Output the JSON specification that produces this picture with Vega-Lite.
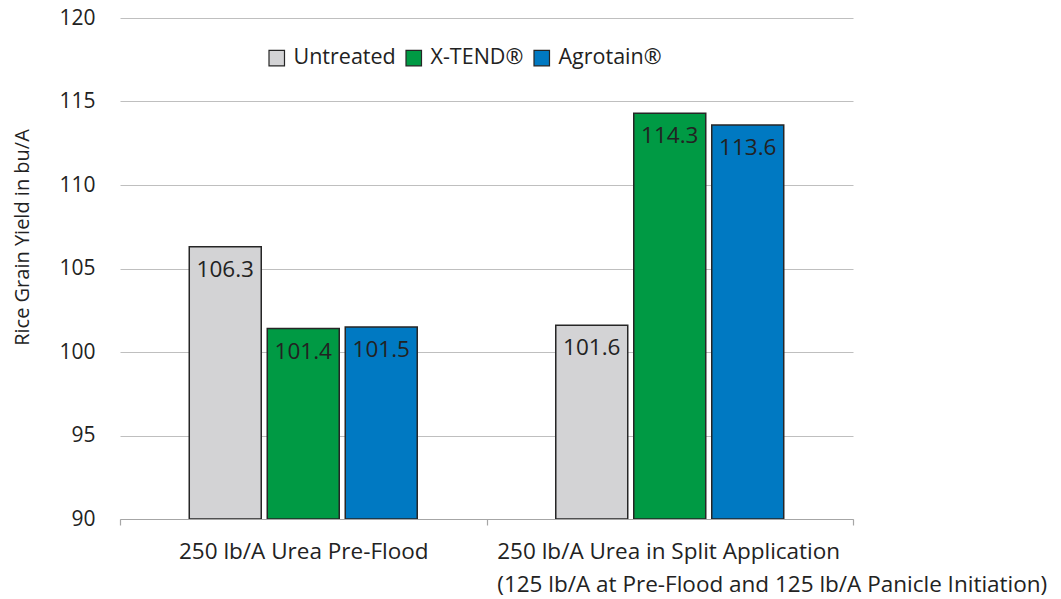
{
  "$schema": "https://vega.github.io/schema/vega-lite/v6.json",
  "width": 733,
  "height": 501,
  "autosize": {"type": "none"},
  "padding": {"left": 120, "top": 18, "right": 208, "bottom": 80},
  "background": "white",
  "config": {
    "font": "Open Sans",
    "view": {"stroke": null}
  },
  "data": {
    "values": [
      {"group": "250 lb/A Urea Pre-Flood", "treatment": "Untreated", "yield": 106.3},
      {"group": "250 lb/A Urea Pre-Flood", "treatment": "X-TEND®", "yield": 101.4},
      {"group": "250 lb/A Urea Pre-Flood", "treatment": "Agrotain®", "yield": 101.5},
      {"group": "250 lb/A Urea in Split Application|(125 lb/A at Pre-Flood and 125 lb/A Panicle Initiation)", "treatment": "Untreated", "yield": 101.6},
      {"group": "250 lb/A Urea in Split Application|(125 lb/A at Pre-Flood and 125 lb/A Panicle Initiation)", "treatment": "X-TEND®", "yield": 114.3},
      {"group": "250 lb/A Urea in Split Application|(125 lb/A at Pre-Flood and 125 lb/A Panicle Initiation)", "treatment": "Agrotain®", "yield": 113.6}
    ]
  },
  "encoding": {
    "x": {
      "field": "group",
      "type": "nominal",
      "sort": null,
      "scale": {"paddingInner": 0, "paddingOuter": 0},
      "axis": {
        "title": null,
        "labelAngle": 0,
        "labelExpr": "split(datum.label, '|')",
        "labelFontSize": 22.5,
        "labelColor": "#222222",
        "labelLineHeight": 33,
        "labelPadding": 15,
        "labelLimit": 1000,
        "labelOverlap": false,
        "labelBound": false,
        "labelFlush": false,
        "labelAlign": {"condition": {"test": "indexof(datum.label, 'Split') >= 0", "value": "left"}, "value": "center"},
        "labelOffset": {"condition": {"test": "indexof(datum.label, 'Split') >= 0", "value": -173}, "value": 0},
        "domainColor": "#A6A6A6",
        "domainWidth": 1.2,
        "tickColor": "#A6A6A6",
        "tickSize": 6,
        "tickWidth": 1.2,
        "tickBand": "extent",
        "grid": false
      }
    },
    "xOffset": {
      "field": "treatment",
      "type": "nominal",
      "sort": ["Untreated", "X-TEND®", "Agrotain®"],
      "scale": {"paddingInner": 0.077, "paddingOuter": 0.888}
    },
    "y": {
      "field": "yield",
      "type": "quantitative",
      "scale": {"domain": [90, 120], "zero": false, "nice": false},
      "axis": {
        "title": "Rice Grain Yield in bu/A",
        "titleFontSize": 20,
        "titleFontWeight": "normal",
        "titleColor": "#222222",
        "titleAngle": -90,
        "titleX": -108,
        "titleY": 219,
        "titleAlign": "center",
        "titleBaseline": "top",
        "values": [90, 95, 100, 105, 110, 115, 120],
        "labelFontSize": 21,
        "labelColor": "#222222",
        "labelPadding": 25,
        "ticks": false,
        "domain": false,
        "gridColor": "#BFBFBF",
        "gridWidth": 1.2
      }
    }
  },
  "layer": [
    {
      "mark": {"type": "bar", "stroke": "#262626", "strokeWidth": 1.5, "clip": true},
      "encoding": {
        "y2": {"datum": 90},
        "color": {
          "field": "treatment",
          "type": "nominal",
          "scale": {"domain": ["Untreated", "X-TEND®", "Agrotain®"], "range": ["#D3D3D5", "#009A44", "#0079C2"]},
          "legend": {
            "title": null,
            "orient": "none",
            "direction": "horizontal",
            "legendX": 146,
            "legendY": 29,
            "symbolType": "square",
            "symbolSize": 240,
            "symbolStrokeColor": "#262626",
            "symbolStrokeWidth": 1.2,
            "labelFontSize": 21.5,
            "labelColor": "#222222",
            "columnPadding": 7,
            "labelOffset": 6
          }
        }
      }
    },
    {
      "mark": {"type": "text", "baseline": "middle", "dy": 23, "fontSize": 22.5, "color": "#222222"},
      "encoding": {
        "text": {"field": "yield", "type": "quantitative", "format": ".1f"}
      }
    }
  ]
}
